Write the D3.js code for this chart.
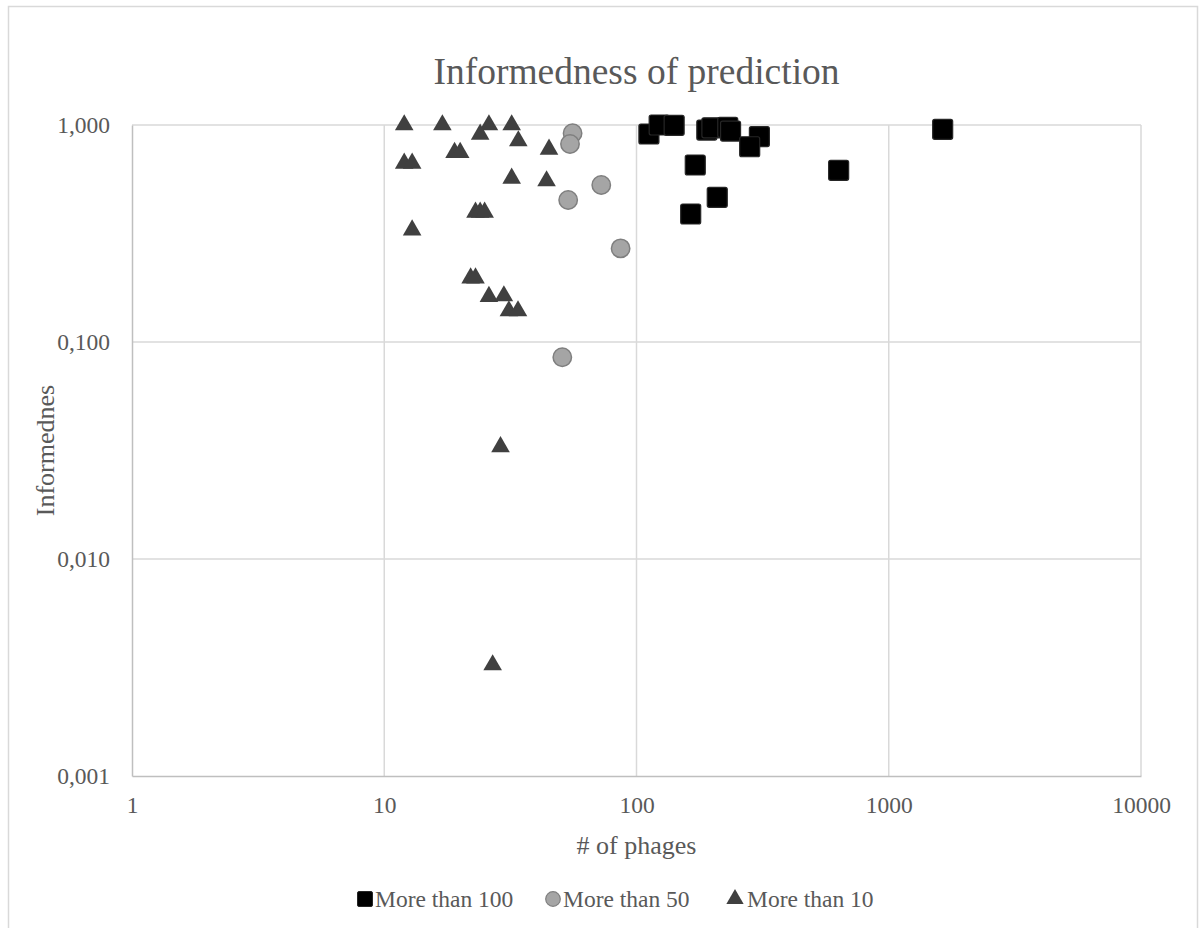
<!DOCTYPE html>
<html>
<head>
<meta charset="utf-8">
<script src="https://cdn.jsdelivr.net/npm/d3@7"></script>
<style>
  html, body { margin: 0; padding: 0; background: #fff; }
  svg { display: block; }
  text { font-family: "Liberation Serif", "Times New Roman", serif; fill: #595959; }
</style>
</head>
<body>
<svg id="chart" width="1204" height="928"></svg>
<script>
// ---- Data ----
const seriesNames = ["More than 100", "More than 50", "More than 10"];

const more100X = [112, 123, 141, 190, 199, 230, 236, 307, 281, 171, 633, 209, 164, 1636];
const more100Y = [0.909, 1.0, 0.997, 0.948, 0.97, 0.976, 0.938, 0.884, 0.794, 0.654, 0.618, 0.464, 0.389, 0.955];

const more50X = [55.8, 54.5, 72.5, 53.6, 86.5, 50.8];
const more50Y = [0.916, 0.818, 0.529, 0.451, 0.270, 0.085];

const more10X = [12, 17, 26, 24, 32, 34, 45, 19, 20, 12, 12.9, 32, 44, 23, 24, 25, 12.9, 22, 23, 26, 29.8, 31.2, 33.9, 28.9, 26.9];
const more10Y = [1.0, 1.0, 1.0, 0.906, 1.0, 0.844, 0.773, 0.746, 0.746, 0.666, 0.666, 0.568, 0.552, 0.396, 0.396, 0.396, 0.328, 0.197, 0.197, 0.162, 0.163, 0.139, 0.139, 0.0329, 0.00325];

const xTicks = [1, 10, 100, 1000, 10000];
const xTickLabels = ["1", "10", "100", "1000", "10000"];
const yTicks = [0.001, 0.01, 0.1, 1];
const yTickLabels = ["0,001", "0,010", "0,100", "1,000"];

const chartTitle = "Informedness of prediction";
const xTitle = "# of phages";
const yTitle = "Informednes";

// ---- Layout ----
const svg = d3.select("#chart");
const plot = { left: 132, right: 1141, top: 125, bottom: 776 };

const x = d3.scaleLog().domain([1, 10000]).range([plot.left, plot.right]);
const y = d3.scaleLog().domain([0.001, 1]).range([plot.bottom, plot.top]);

// outer chart border
svg.append("rect")
  .attr("x", 8.5).attr("y", 6.5).attr("width", 1189).attr("height", 940)
  .attr("fill", "none").attr("stroke", "#d9d9d9").attr("stroke-width", 1.5);

// gridlines
const grid = svg.append("g");
grid.selectAll("line.gy").data(yTicks.filter(d => d !== 0.001)).join("line")
  .attr("x1", plot.left).attr("x2", plot.right)
  .attr("y1", d => y(d)).attr("y2", d => y(d))
  .attr("stroke", "#d9d9d9").attr("stroke-width", 1.5);
grid.selectAll("line.gx").data(xTicks.filter(d => d !== 1)).join("line")
  .attr("y1", plot.top).attr("y2", plot.bottom)
  .attr("x1", d => x(d)).attr("x2", d => x(d))
  .attr("stroke", "#d9d9d9").attr("stroke-width", 1.5);

// axes
const xAxis = d3.axisBottom(x).tickValues(xTicks).tickSize(0).tickPadding(20)
  .tickFormat((d, i) => xTickLabels[i]);
const gx = svg.append("g").attr("transform", `translate(0,${plot.bottom})`).call(xAxis);
gx.select(".domain").attr("stroke", "#bfbfbf").attr("stroke-width", 1.5);
gx.selectAll("text").attr("font-size", 23.5).attr("fill", "#595959")
  .attr("font-family", "Liberation Serif, serif");

const yAxis = d3.axisLeft(y).tickValues(yTicks).tickSize(0).tickPadding(22)
  .tickFormat((d, i) => yTickLabels[i]);
const gy = svg.append("g").attr("transform", `translate(${plot.left},0)`).call(yAxis);
gy.select(".domain").attr("stroke", "#bfbfbf").attr("stroke-width", 1.5);
gy.selectAll("text").attr("font-size", 23.5).attr("fill", "#595959")
  .attr("font-family", "Liberation Serif, serif");

// titles
svg.append("text").attr("x", (plot.left + plot.right) / 2).attr("y", 84)
  .attr("text-anchor", "middle").attr("font-size", 37.5).text(chartTitle);
svg.append("text").attr("x", (plot.left + plot.right) / 2).attr("y", 854)
  .attr("text-anchor", "middle").attr("font-size", 26).text(xTitle);
svg.append("text")
  .attr("transform", `translate(54,${(plot.top + plot.bottom) / 2}) rotate(-90)`)
  .attr("text-anchor", "middle").attr("font-size", 26).text(yTitle);

// markers
const marks = svg.append("g");
const tri = d3.symbol().type(d3.symbolTriangle).size(150);

marks.selectAll("path.tri").data(d3.zip(more10X, more10Y)).join("path")
  .attr("transform", d => `translate(${x(d[0])},${y(d[1])})`)
  .attr("d", tri).attr("fill", "#404040");

marks.selectAll("circle.c50").data(d3.zip(more50X, more50Y)).join("circle")
  .attr("cx", d => x(d[0])).attr("cy", d => y(d[1])).attr("r", 9.2)
  .attr("fill", "#a5a5a5").attr("stroke", "#7f7f7f").attr("stroke-width", 1.5);

const sq = 20;
marks.selectAll("rect.s100").data(d3.zip(more100X, more100Y)).join("rect")
  .attr("x", d => x(d[0]) - sq / 2).attr("y", d => y(d[1]) - sq / 2)
  .attr("width", sq).attr("height", sq).attr("rx", 2)
  .attr("fill", "#000").attr("stroke", "#262626").attr("stroke-width", 1.2);

// legend
const legendY = 899;
const legend = svg.append("g");
const itemsX = [365, 553, 735];
seriesNames.forEach((name, i) => {
  const g = legend.append("g").attr("transform", `translate(${itemsX[i]},${legendY})`);
  if (i === 0) {
    g.append("rect").attr("x", -7.5).attr("y", -7.5).attr("width", 15).attr("height", 15)
      .attr("rx", 1.5).attr("fill", "#000").attr("stroke", "#262626");
  } else if (i === 1) {
    g.append("circle").attr("r", 7.3).attr("fill", "#a5a5a5").attr("stroke", "#7f7f7f").attr("stroke-width", 1.2);
  } else {
    g.append("path").attr("d", d3.symbol().type(d3.symbolTriangle).size(130)).attr("fill", "#404040");
  }
  g.append("text").attr("x", i === 2 ? 12 : 10).attr("y", 8).attr("font-size", 23.5).text(name);
});
</script>
</body>
</html>
